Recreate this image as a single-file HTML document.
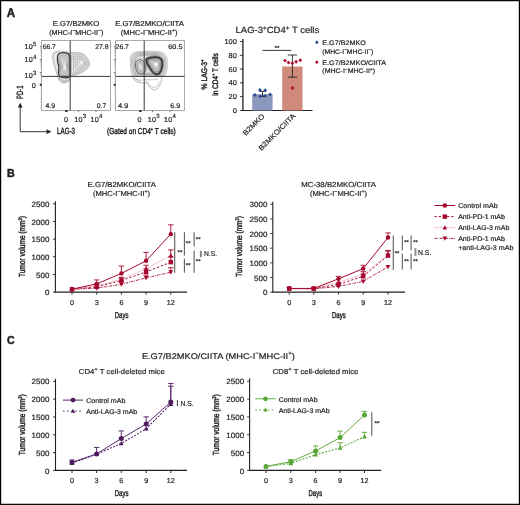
<!DOCTYPE html>
<html><head><meta charset="utf-8"><style>
html,body{margin:0;padding:0;background:#fff;}
svg{display:block;font-family:"Liberation Sans", sans-serif;will-change:transform;text-rendering:geometricPrecision;}
text{fill:#231f20;stroke:#231f20;stroke-width:0.2px;}
.c{stroke-width:0.42px;}
.b{stroke-width:0.5px;}
</style></head><body>
<svg width="520" height="505" viewBox="0 0 520 505">
<rect x="0.6" y="0.65" width="518.8" height="503.7" fill="#fff" stroke="#000" stroke-width="1.2"/>
<text x="6.7" y="16.6" font-size="12.6" font-weight="bold" textLength="8.3" lengthAdjust="spacingAndGlyphs" class="b">A</text>
<text x="7.1" y="177.1" font-size="11.5" font-weight="bold" textLength="7.7" lengthAdjust="spacingAndGlyphs" class="b">B</text>
<text x="7.1" y="344.3" font-size="11.5" font-weight="bold" textLength="7.6" lengthAdjust="spacingAndGlyphs" class="b">C</text>
<rect x="41.5" y="40.5" width="69" height="70" fill="none" stroke="#a2a2a2" stroke-width="0.9"/>
<path d="M52.3,54.5 C53,51.6 56,50.8 60,50.8 C64,50.8 67.5,51.3 70.5,52.6 C73,52 76,52.4 78,52.8 C80.5,52.4 83,52.8 85.2,55.6 C87.2,58 89.2,60.5 89.6,63 C89.9,65 89.1,66.6 87.9,67.9 C86.5,69.6 85,70.7 83.5,71.6 C81.5,72.9 79.5,73.9 77,74.6 C75,75.2 73,75.6 71,76.4 C70.2,80.5 68,83.2 64.5,83.4 C60.5,83.5 58.6,80.8 57.6,77.2 C56.6,73 55,69 53.8,64.5 C53,61.2 52,57.5 52.3,54.5Z" transform="translate(63,66) scale(1.0) translate(-63,-66)" fill="#f6f6f6" stroke="#b4b4b4" stroke-width="0.5" vector-effect="non-scaling-stroke"/><path d="M52.3,54.5 C53,51.6 56,50.8 60,50.8 C64,50.8 67.5,51.3 70.5,52.6 C73,52 76,52.4 78,52.8 C80.5,52.4 83,52.8 85.2,55.6 C87.2,58 89.2,60.5 89.6,63 C89.9,65 89.1,66.6 87.9,67.9 C86.5,69.6 85,70.7 83.5,71.6 C81.5,72.9 79.5,73.9 77,74.6 C75,75.2 73,75.6 71,76.4 C70.2,80.5 68,83.2 64.5,83.4 C60.5,83.5 58.6,80.8 57.6,77.2 C56.6,73 55,69 53.8,64.5 C53,61.2 52,57.5 52.3,54.5Z" transform="translate(63,66) scale(0.95) translate(-63,-66)" fill="#f0f0f0" stroke="#aaaaaa" stroke-width="0.5" vector-effect="non-scaling-stroke"/><path d="M52.3,54.5 C53,51.6 56,50.8 60,50.8 C64,50.8 67.5,51.3 70.5,52.6 C73,52 76,52.4 78,52.8 C80.5,52.4 83,52.8 85.2,55.6 C87.2,58 89.2,60.5 89.6,63 C89.9,65 89.1,66.6 87.9,67.9 C86.5,69.6 85,70.7 83.5,71.6 C81.5,72.9 79.5,73.9 77,74.6 C75,75.2 73,75.6 71,76.4 C70.2,80.5 68,83.2 64.5,83.4 C60.5,83.5 58.6,80.8 57.6,77.2 C56.6,73 55,69 53.8,64.5 C53,61.2 52,57.5 52.3,54.5Z" transform="translate(63,66) scale(0.9) translate(-63,-66)" fill="#ebebeb" stroke="#a4a4a4" stroke-width="0.5" vector-effect="non-scaling-stroke"/><path d="M69.6,53.8 C72,53 75.5,52.8 78.5,53 C81.5,53.2 84,54.2 86,56.4 C88.2,58.8 89.4,61.2 89.4,63.6 C89.4,66 88.2,68 86.2,69.6 C84,71.4 81.2,72.8 78,73.8 C75.5,74.6 72.5,75 69.6,75.2Z" transform="translate(81.5,63) scale(1.0) translate(-81.5,-63)" fill="#eaeaea" stroke="#969696" stroke-width="0.55" vector-effect="non-scaling-stroke"/><path d="M69.6,53.8 C72,53 75.5,52.8 78.5,53 C81.5,53.2 84,54.2 86,56.4 C88.2,58.8 89.4,61.2 89.4,63.6 C89.4,66 88.2,68 86.2,69.6 C84,71.4 81.2,72.8 78,73.8 C75.5,74.6 72.5,75 69.6,75.2Z" transform="translate(81.5,63) scale(0.84) translate(-81.5,-63)" fill="#e9e9e9" stroke="#969696" stroke-width="0.55" vector-effect="non-scaling-stroke"/><path d="M69.6,53.8 C72,53 75.5,52.8 78.5,53 C81.5,53.2 84,54.2 86,56.4 C88.2,58.8 89.4,61.2 89.4,63.6 C89.4,66 88.2,68 86.2,69.6 C84,71.4 81.2,72.8 78,73.8 C75.5,74.6 72.5,75 69.6,75.2Z" transform="translate(81.5,63) scale(0.68) translate(-81.5,-63)" fill="#e8e8e8" stroke="#969696" stroke-width="0.55" vector-effect="non-scaling-stroke"/><path d="M69.6,53.8 C72,53 75.5,52.8 78.5,53 C81.5,53.2 84,54.2 86,56.4 C88.2,58.8 89.4,61.2 89.4,63.6 C89.4,66 88.2,68 86.2,69.6 C84,71.4 81.2,72.8 78,73.8 C75.5,74.6 72.5,75 69.6,75.2Z" transform="translate(81.5,63) scale(0.52) translate(-81.5,-63)" fill="#e8e8e8" stroke="#969696" stroke-width="0.55" vector-effect="non-scaling-stroke"/><path d="M69.6,53.8 C72,53 75.5,52.8 78.5,53 C81.5,53.2 84,54.2 86,56.4 C88.2,58.8 89.4,61.2 89.4,63.6 C89.4,66 88.2,68 86.2,69.6 C84,71.4 81.2,72.8 78,73.8 C75.5,74.6 72.5,75 69.6,75.2Z" transform="translate(81.5,63) scale(0.36) translate(-81.5,-63)" fill="#e7e7e7" stroke="#969696" stroke-width="0.55" vector-effect="non-scaling-stroke"/><path d="M69.6,53.8 C72,53 75.5,52.8 78.5,53 C81.5,53.2 84,54.2 86,56.4 C88.2,58.8 89.4,61.2 89.4,63.6 C89.4,66 88.2,68 86.2,69.6 C84,71.4 81.2,72.8 78,73.8 C75.5,74.6 72.5,75 69.6,75.2Z" transform="translate(81.5,63) scale(0.2) translate(-81.5,-63)" fill="#e6e6e6" stroke="#b0b0b0" stroke-width="0.55" vector-effect="non-scaling-stroke"/><path d="M72.8,71.5 C75,69 78,66.2 81,64" fill="none" stroke="#f2f2f2" stroke-width="1.0"/><ellipse cx="81.6" cy="62.6" rx="1.3" ry="1.0" fill="#fff"/><path d="M71.5,55.5 L74.5,58 L71.5,60 M71.5,58 L73.5,59.5" fill="none" stroke="#a8a8a8" stroke-width="0.5"/><path d="M58.5,76.5 C60,80.8 62.5,82 65,82 C67.6,82 69.4,80.6 70.2,77.6" fill="#e4e4e4" stroke="#8a8a8a" stroke-width="0.6"/><path d="M59.5,77.5 C61,80 63,80.8 65,80.8 C67,80.8 68.6,79.8 69.2,77.8" fill="none" stroke="#999" stroke-width="0.5"/><path d="M57.4,57.5 C57.2,54.5 59.5,52.7 63,52.6 C66.5,52.5 69.5,54 69.9,57.5 L70,74.5 C70,76.8 68.3,77.9 65.5,77.9 C62.5,77.9 60.2,77.2 59.2,75.5 C58.3,74 58.4,71.5 58.8,69.5 C59.2,67.5 58.6,65.5 58,63.5 C57.5,61.5 57.3,59.5 57.4,57.5Z" transform="translate(64.5,66) scale(1.0) translate(-64.5,-66)" fill="#d6d6d6" stroke="#333333" stroke-width="1.2" vector-effect="non-scaling-stroke"/><path d="M57.4,57.5 C57.2,54.5 59.5,52.7 63,52.6 C66.5,52.5 69.5,54 69.9,57.5 L70,74.5 C70,76.8 68.3,77.9 65.5,77.9 C62.5,77.9 60.2,77.2 59.2,75.5 C58.3,74 58.4,71.5 58.8,69.5 C59.2,67.5 58.6,65.5 58,63.5 C57.5,61.5 57.3,59.5 57.4,57.5Z" transform="translate(64.5,66) scale(0.82) translate(-64.5,-66)" fill="#d8d8d8" stroke="#787878" stroke-width="0.6" vector-effect="non-scaling-stroke"/><path d="M57.4,57.5 C57.2,54.5 59.5,52.7 63,52.6 C66.5,52.5 69.5,54 69.9,57.5 L70,74.5 C70,76.8 68.3,77.9 65.5,77.9 C62.5,77.9 60.2,77.2 59.2,75.5 C58.3,74 58.4,71.5 58.8,69.5 C59.2,67.5 58.6,65.5 58,63.5 C57.5,61.5 57.3,59.5 57.4,57.5Z" transform="translate(64.5,66) scale(0.67) translate(-64.5,-66)" fill="#dedede" stroke="#848484" stroke-width="0.6" vector-effect="non-scaling-stroke"/><path d="M57.4,57.5 C57.2,54.5 59.5,52.7 63,52.6 C66.5,52.5 69.5,54 69.9,57.5 L70,74.5 C70,76.8 68.3,77.9 65.5,77.9 C62.5,77.9 60.2,77.2 59.2,75.5 C58.3,74 58.4,71.5 58.8,69.5 C59.2,67.5 58.6,65.5 58,63.5 C57.5,61.5 57.3,59.5 57.4,57.5Z" transform="translate(64.5,66) scale(0.52) translate(-64.5,-66)" fill="#e3e3e3" stroke="#8e8e8e" stroke-width="0.6" vector-effect="non-scaling-stroke"/><path d="M57.4,57.5 C57.2,54.5 59.5,52.7 63,52.6 C66.5,52.5 69.5,54 69.9,57.5 L70,74.5 C70,76.8 68.3,77.9 65.5,77.9 C62.5,77.9 60.2,77.2 59.2,75.5 C58.3,74 58.4,71.5 58.8,69.5 C59.2,67.5 58.6,65.5 58,63.5 C57.5,61.5 57.3,59.5 57.4,57.5Z" transform="translate(64.5,66) scale(0.37) translate(-64.5,-66)" fill="#e8e8e8" stroke="#9a9a9a" stroke-width="0.6" vector-effect="non-scaling-stroke"/><path d="M57.4,57.5 C57.2,54.5 59.5,52.7 63,52.6 C66.5,52.5 69.5,54 69.9,57.5 L70,74.5 C70,76.8 68.3,77.9 65.5,77.9 C62.5,77.9 60.2,77.2 59.2,75.5 C58.3,74 58.4,71.5 58.8,69.5 C59.2,67.5 58.6,65.5 58,63.5 C57.5,61.5 57.3,59.5 57.4,57.5Z" transform="translate(64.5,66) scale(0.22) translate(-64.5,-66)" fill="#eeeeee" stroke="#b4b4b4" stroke-width="0.6" vector-effect="non-scaling-stroke"/><ellipse cx="65.1" cy="67.7" rx="0.9" ry="1.4" fill="#fff"/>
<line x1="70.2" y1="40.5" x2="70.2" y2="110.5" stroke="#3a3a3a" stroke-width="1.0" />
<line x1="41.5" y1="76.4" x2="110.5" y2="76.4" stroke="#3a3a3a" stroke-width="1.0" />
<line x1="39.8" y1="46.3" x2="41.5" y2="46.3" stroke="#555" stroke-width="0.8" />
<line x1="39.8" y1="59.4" x2="41.5" y2="59.4" stroke="#555" stroke-width="0.8" />
<line x1="39.8" y1="72.5" x2="41.5" y2="72.5" stroke="#555" stroke-width="0.8" />
<line x1="40.4" y1="55.46" x2="41.5" y2="55.46" stroke="#999" stroke-width="0.6" />
<line x1="40.4" y1="53.15" x2="41.5" y2="53.15" stroke="#999" stroke-width="0.6" />
<line x1="40.4" y1="51.51" x2="41.5" y2="51.51" stroke="#999" stroke-width="0.6" />
<line x1="40.4" y1="50.24" x2="41.5" y2="50.24" stroke="#999" stroke-width="0.6" />
<line x1="40.4" y1="49.21" x2="41.5" y2="49.21" stroke="#999" stroke-width="0.6" />
<line x1="40.4" y1="48.33" x2="41.5" y2="48.33" stroke="#999" stroke-width="0.6" />
<line x1="40.4" y1="47.57" x2="41.5" y2="47.57" stroke="#999" stroke-width="0.6" />
<line x1="40.4" y1="46.9" x2="41.5" y2="46.9" stroke="#999" stroke-width="0.6" />
<line x1="40.4" y1="68.56" x2="41.5" y2="68.56" stroke="#999" stroke-width="0.6" />
<line x1="40.4" y1="66.25" x2="41.5" y2="66.25" stroke="#999" stroke-width="0.6" />
<line x1="40.4" y1="64.61" x2="41.5" y2="64.61" stroke="#999" stroke-width="0.6" />
<line x1="40.4" y1="63.34" x2="41.5" y2="63.34" stroke="#999" stroke-width="0.6" />
<line x1="40.4" y1="62.31" x2="41.5" y2="62.31" stroke="#999" stroke-width="0.6" />
<line x1="40.4" y1="61.43" x2="41.5" y2="61.43" stroke="#999" stroke-width="0.6" />
<line x1="40.4" y1="60.67" x2="41.5" y2="60.67" stroke="#999" stroke-width="0.6" />
<line x1="40.4" y1="60.0" x2="41.5" y2="60.0" stroke="#999" stroke-width="0.6" />
<line x1="40.4" y1="75.41" x2="41.5" y2="75.41" stroke="#999" stroke-width="0.6" />
<line x1="40.4" y1="74.53" x2="41.5" y2="74.53" stroke="#999" stroke-width="0.6" />
<line x1="40.4" y1="73.77" x2="41.5" y2="73.77" stroke="#999" stroke-width="0.6" />
<line x1="40.4" y1="73.1" x2="41.5" y2="73.1" stroke="#999" stroke-width="0.6" />
<line x1="40.4" y1="78" x2="41.5" y2="78" stroke="#aaa" stroke-width="0.6" />
<line x1="40.4" y1="80" x2="41.5" y2="80" stroke="#aaa" stroke-width="0.6" />
<line x1="40.4" y1="82" x2="41.5" y2="82" stroke="#aaa" stroke-width="0.6" />
<line x1="40.4" y1="86" x2="41.5" y2="86" stroke="#aaa" stroke-width="0.6" />
<line x1="40.4" y1="88" x2="41.5" y2="88" stroke="#aaa" stroke-width="0.6" />
<line x1="40.4" y1="90" x2="41.5" y2="90" stroke="#aaa" stroke-width="0.6" />
<line x1="40.4" y1="93" x2="41.5" y2="93" stroke="#aaa" stroke-width="0.6" />
<line x1="40.4" y1="96" x2="41.5" y2="96" stroke="#aaa" stroke-width="0.6" />
<line x1="40.4" y1="99" x2="41.5" y2="99" stroke="#aaa" stroke-width="0.6" />
<line x1="40.4" y1="102" x2="41.5" y2="102" stroke="#aaa" stroke-width="0.6" />
<line x1="40.4" y1="105" x2="41.5" y2="105" stroke="#aaa" stroke-width="0.6" />
<line x1="40.4" y1="108" x2="41.5" y2="108" stroke="#aaa" stroke-width="0.6" />
<rect x="39.8" y="83.8" width="1.8" height="2" fill="#222"/>
<line x1="46" y1="110.5" x2="46" y2="111.5" stroke="#aaa" stroke-width="0.6" />
<line x1="50" y1="110.5" x2="50" y2="111.5" stroke="#aaa" stroke-width="0.6" />
<line x1="54" y1="110.5" x2="54" y2="111.5" stroke="#aaa" stroke-width="0.6" />
<line x1="58" y1="110.5" x2="58" y2="111.5" stroke="#aaa" stroke-width="0.6" />
<line x1="62" y1="110.5" x2="62" y2="111.5" stroke="#aaa" stroke-width="0.6" />
<line x1="74" y1="110.5" x2="74" y2="111.5" stroke="#aaa" stroke-width="0.6" />
<line x1="77" y1="110.5" x2="77" y2="111.5" stroke="#aaa" stroke-width="0.6" />
<line x1="81" y1="110.5" x2="81" y2="111.5" stroke="#aaa" stroke-width="0.6" />
<line x1="86" y1="110.5" x2="86" y2="111.5" stroke="#aaa" stroke-width="0.6" />
<line x1="92" y1="110.5" x2="92" y2="111.5" stroke="#aaa" stroke-width="0.6" />
<line x1="96" y1="110.5" x2="96" y2="111.5" stroke="#aaa" stroke-width="0.6" />
<line x1="100" y1="110.5" x2="100" y2="111.5" stroke="#aaa" stroke-width="0.6" />
<line x1="104" y1="110.5" x2="104" y2="111.5" stroke="#aaa" stroke-width="0.6" />
<line x1="108" y1="110.5" x2="108" y2="111.5" stroke="#aaa" stroke-width="0.6" />
<rect x="65.2" y="110.2" width="2.4" height="1.8" fill="#222"/>
<line x1="78.5" y1="110.5" x2="78.5" y2="112" stroke="#555" stroke-width="0.8" />
<line x1="96" y1="110.5" x2="96" y2="112" stroke="#555" stroke-width="0.8" />
<text x="42.8" y="48.9" font-size="6.8" textLength="13.0" lengthAdjust="spacingAndGlyphs" >66.7</text>
<text x="95.3" y="48.9" font-size="6.8" textLength="13.2" lengthAdjust="spacingAndGlyphs" >27.8</text>
<text x="45.4" y="107.9" font-size="6.8" textLength="9.6" lengthAdjust="spacingAndGlyphs" >4.9</text>
<text x="96.8" y="107.9" font-size="6.8" textLength="9.5" lengthAdjust="spacingAndGlyphs" >0.7</text>
<rect x="115.5" y="40.5" width="69" height="70" fill="none" stroke="#a2a2a2" stroke-width="0.9"/>
<path d="M132.6,76.6 C133.2,79.2 135,81.6 139,82.6 C142,83.2 145,83 146.5,82.4 C148,85.6 151,89.2 154.5,89.9 C156.6,90.1 158.1,88.6 159.6,85.6 C160.9,82.6 161.6,79.6 161.9,76.6" fill="none" stroke="#8a8a8a" stroke-width="0.6"/><path d="M134.6,77.4 C135.8,79.8 138,81 141,81.2 M146,80.2 C148,83.6 151,86.9 154.5,87.5 C156.6,87.5 158.1,85 159.1,81.6 M144,79.2 C148,80 153,80.2 158,79 M134,78.6 C136,79.8 140,80.3 143,80" fill="none" stroke="#969696" stroke-width="0.5"/><path d="M130.2,58 C130.8,54 133.5,52 139,51.6 C146,51.1 156,51.1 161.5,52.2 C165.5,53.4 167.1,57 167.3,62 C167.5,68 166.8,72.5 164.3,76.6 L132.2,76.6 C131,71.5 130,64 130.2,58Z" transform="translate(149,65) scale(1.0) translate(-149,-65)" fill="#f2f2f2" stroke="#9c9c9c" stroke-width="0.55" vector-effect="non-scaling-stroke"/><path d="M130.2,58 C130.8,54 133.5,52 139,51.6 C146,51.1 156,51.1 161.5,52.2 C165.5,53.4 167.1,57 167.3,62 C167.5,68 166.8,72.5 164.3,76.6 L132.2,76.6 C131,71.5 130,64 130.2,58Z" transform="translate(149,65) scale(0.93) translate(-149,-65)" fill="#ececec" stroke="#949494" stroke-width="0.55" vector-effect="non-scaling-stroke"/><path d="M130.2,58 C130.8,54 133.5,52 139,51.6 C146,51.1 156,51.1 161.5,52.2 C165.5,53.4 167.1,57 167.3,62 C167.5,68 166.8,72.5 164.3,76.6 L132.2,76.6 C131,71.5 130,64 130.2,58Z" transform="translate(149,65) scale(0.86) translate(-149,-65)" fill="#e6e6e6" stroke="#8e8e8e" stroke-width="0.55" vector-effect="non-scaling-stroke"/><path d="M130.2,58 C130.8,54 133.5,52 139,51.6 C146,51.1 156,51.1 161.5,52.2 C165.5,53.4 167.1,57 167.3,62 C167.5,68 166.8,72.5 164.3,76.6 L132.2,76.6 C131,71.5 130,64 130.2,58Z" transform="translate(149,65) scale(0.79) translate(-149,-65)" fill="#e0e0e0" stroke="#8a8a8a" stroke-width="0.55" vector-effect="non-scaling-stroke"/><path d="M130.2,58 C130.8,54 133.5,52 139,51.6 C146,51.1 156,51.1 161.5,52.2 C165.5,53.4 167.1,57 167.3,62 C167.5,68 166.8,72.5 164.3,76.6 L132.2,76.6 C131,71.5 130,64 130.2,58Z" transform="translate(149,65) scale(0.72) translate(-149,-65)" fill="#dadada" stroke="#868686" stroke-width="0.55" vector-effect="non-scaling-stroke"/><path d="M135.6,63.5 C136.2,60 139.5,59 142.4,60.4 C145.2,62 146.4,66 145.8,69.6 C145.2,72.8 142.2,74.2 139.4,73.4 C136.6,72.4 135.2,67.5 135.6,63.5Z" transform="translate(140.6,66.8) scale(1.0) translate(-140.6,-66.8)" fill="#d0d0d0" stroke="#5a5a5a" stroke-width="0.9" vector-effect="non-scaling-stroke"/><path d="M135.6,63.5 C136.2,60 139.5,59 142.4,60.4 C145.2,62 146.4,66 145.8,69.6 C145.2,72.8 142.2,74.2 139.4,73.4 C136.6,72.4 135.2,67.5 135.6,63.5Z" transform="translate(140.6,66.8) scale(0.72) translate(-140.6,-66.8)" fill="#dadada" stroke="#7a7a7a" stroke-width="0.6" vector-effect="non-scaling-stroke"/><path d="M135.6,63.5 C136.2,60 139.5,59 142.4,60.4 C145.2,62 146.4,66 145.8,69.6 C145.2,72.8 142.2,74.2 139.4,73.4 C136.6,72.4 135.2,67.5 135.6,63.5Z" transform="translate(140.6,66.8) scale(0.45) translate(-140.6,-66.8)" fill="#e6e6e6" stroke="#8e8e8e" stroke-width="0.55" vector-effect="non-scaling-stroke"/><path d="M135.6,63.5 C136.2,60 139.5,59 142.4,60.4 C145.2,62 146.4,66 145.8,69.6 C145.2,72.8 142.2,74.2 139.4,73.4 C136.6,72.4 135.2,67.5 135.6,63.5Z" transform="translate(140.6,66.8) scale(0.2) translate(-140.6,-66.8)" fill="#f8f8f8" stroke="#b8b8b8" stroke-width="0.5" vector-effect="non-scaling-stroke"/><path d="M146.5,59.8 C148,57.6 152,57.2 156,57.3 C159.5,57.4 161.5,58.4 162,61 C162.6,64 162,67.8 160.8,70.8 C159.6,73.4 157.6,74.5 155.6,74 C153.5,73.4 151.8,71 150.2,68.4 C148.6,65.8 146.4,63.2 146.5,59.8Z" transform="translate(155.5,64.5) scale(1.16) translate(-155.5,-64.5)" fill="#c8c8c8" stroke="#7a7a7a" stroke-width="0.6" vector-effect="non-scaling-stroke"/><path d="M146.5,59.8 C148,57.6 152,57.2 156,57.3 C159.5,57.4 161.5,58.4 162,61 C162.6,64 162,67.8 160.8,70.8 C159.6,73.4 157.6,74.5 155.6,74 C153.5,73.4 151.8,71 150.2,68.4 C148.6,65.8 146.4,63.2 146.5,59.8Z" transform="translate(155.5,64.5) scale(1.08) translate(-155.5,-64.5)" fill="#b4b4b4" stroke="#5a5a5a" stroke-width="0.8" vector-effect="non-scaling-stroke"/><path d="M146.5,59.8 C148,57.6 152,57.2 156,57.3 C159.5,57.4 161.5,58.4 162,61 C162.6,64 162,67.8 160.8,70.8 C159.6,73.4 157.6,74.5 155.6,74 C153.5,73.4 151.8,71 150.2,68.4 C148.6,65.8 146.4,63.2 146.5,59.8Z" transform="translate(156,64.3) scale(1.0) translate(-156,-64.3)" fill="#c4c4c4" stroke="#383838" stroke-width="1.7" vector-effect="non-scaling-stroke"/><path d="M146.5,59.8 C148,57.6 152,57.2 156,57.3 C159.5,57.4 161.5,58.4 162,61 C162.6,64 162,67.8 160.8,70.8 C159.6,73.4 157.6,74.5 155.6,74 C153.5,73.4 151.8,71 150.2,68.4 C148.6,65.8 146.4,63.2 146.5,59.8Z" transform="translate(156,64.3) scale(0.8) translate(-156,-64.3)" fill="#cccccc" stroke="#5e5e5e" stroke-width="0.7" vector-effect="non-scaling-stroke"/><path d="M146.5,59.8 C148,57.6 152,57.2 156,57.3 C159.5,57.4 161.5,58.4 162,61 C162.6,64 162,67.8 160.8,70.8 C159.6,73.4 157.6,74.5 155.6,74 C153.5,73.4 151.8,71 150.2,68.4 C148.6,65.8 146.4,63.2 146.5,59.8Z" transform="translate(156,64.3) scale(0.6) translate(-156,-64.3)" fill="#d8d8d8" stroke="#767676" stroke-width="0.6" vector-effect="non-scaling-stroke"/><path d="M146.5,59.8 C148,57.6 152,57.2 156,57.3 C159.5,57.4 161.5,58.4 162,61 C162.6,64 162,67.8 160.8,70.8 C159.6,73.4 157.6,74.5 155.6,74 C153.5,73.4 151.8,71 150.2,68.4 C148.6,65.8 146.4,63.2 146.5,59.8Z" transform="translate(156,64.3) scale(0.4) translate(-156,-64.3)" fill="#e4e4e4" stroke="#8a8a8a" stroke-width="0.55" vector-effect="non-scaling-stroke"/><path d="M146.5,59.8 C148,57.6 152,57.2 156,57.3 C159.5,57.4 161.5,58.4 162,61 C162.6,64 162,67.8 160.8,70.8 C159.6,73.4 157.6,74.5 155.6,74 C153.5,73.4 151.8,71 150.2,68.4 C148.6,65.8 146.4,63.2 146.5,59.8Z" transform="translate(156,64.3) scale(0.2) translate(-156,-64.3)" fill="#f0f0f0" stroke="#b0b0b0" stroke-width="0.5" vector-effect="non-scaling-stroke"/><ellipse cx="156.2" cy="64.2" rx="1.4" ry="1.2" fill="#fff"/>
<line x1="144.2" y1="40.5" x2="144.2" y2="110.5" stroke="#3a3a3a" stroke-width="1.0" />
<line x1="115.5" y1="76.4" x2="184.5" y2="76.4" stroke="#3a3a3a" stroke-width="1.0" />
<line x1="113.8" y1="46.3" x2="115.5" y2="46.3" stroke="#555" stroke-width="0.8" />
<line x1="113.8" y1="59.4" x2="115.5" y2="59.4" stroke="#555" stroke-width="0.8" />
<line x1="113.8" y1="72.5" x2="115.5" y2="72.5" stroke="#555" stroke-width="0.8" />
<line x1="114.4" y1="55.46" x2="115.5" y2="55.46" stroke="#999" stroke-width="0.6" />
<line x1="114.4" y1="53.15" x2="115.5" y2="53.15" stroke="#999" stroke-width="0.6" />
<line x1="114.4" y1="51.51" x2="115.5" y2="51.51" stroke="#999" stroke-width="0.6" />
<line x1="114.4" y1="50.24" x2="115.5" y2="50.24" stroke="#999" stroke-width="0.6" />
<line x1="114.4" y1="49.21" x2="115.5" y2="49.21" stroke="#999" stroke-width="0.6" />
<line x1="114.4" y1="48.33" x2="115.5" y2="48.33" stroke="#999" stroke-width="0.6" />
<line x1="114.4" y1="47.57" x2="115.5" y2="47.57" stroke="#999" stroke-width="0.6" />
<line x1="114.4" y1="46.9" x2="115.5" y2="46.9" stroke="#999" stroke-width="0.6" />
<line x1="114.4" y1="68.56" x2="115.5" y2="68.56" stroke="#999" stroke-width="0.6" />
<line x1="114.4" y1="66.25" x2="115.5" y2="66.25" stroke="#999" stroke-width="0.6" />
<line x1="114.4" y1="64.61" x2="115.5" y2="64.61" stroke="#999" stroke-width="0.6" />
<line x1="114.4" y1="63.34" x2="115.5" y2="63.34" stroke="#999" stroke-width="0.6" />
<line x1="114.4" y1="62.31" x2="115.5" y2="62.31" stroke="#999" stroke-width="0.6" />
<line x1="114.4" y1="61.43" x2="115.5" y2="61.43" stroke="#999" stroke-width="0.6" />
<line x1="114.4" y1="60.67" x2="115.5" y2="60.67" stroke="#999" stroke-width="0.6" />
<line x1="114.4" y1="60.0" x2="115.5" y2="60.0" stroke="#999" stroke-width="0.6" />
<line x1="114.4" y1="75.41" x2="115.5" y2="75.41" stroke="#999" stroke-width="0.6" />
<line x1="114.4" y1="74.53" x2="115.5" y2="74.53" stroke="#999" stroke-width="0.6" />
<line x1="114.4" y1="73.77" x2="115.5" y2="73.77" stroke="#999" stroke-width="0.6" />
<line x1="114.4" y1="73.1" x2="115.5" y2="73.1" stroke="#999" stroke-width="0.6" />
<line x1="114.4" y1="78" x2="115.5" y2="78" stroke="#aaa" stroke-width="0.6" />
<line x1="114.4" y1="80" x2="115.5" y2="80" stroke="#aaa" stroke-width="0.6" />
<line x1="114.4" y1="82" x2="115.5" y2="82" stroke="#aaa" stroke-width="0.6" />
<line x1="114.4" y1="86" x2="115.5" y2="86" stroke="#aaa" stroke-width="0.6" />
<line x1="114.4" y1="88" x2="115.5" y2="88" stroke="#aaa" stroke-width="0.6" />
<line x1="114.4" y1="90" x2="115.5" y2="90" stroke="#aaa" stroke-width="0.6" />
<line x1="114.4" y1="93" x2="115.5" y2="93" stroke="#aaa" stroke-width="0.6" />
<line x1="114.4" y1="96" x2="115.5" y2="96" stroke="#aaa" stroke-width="0.6" />
<line x1="114.4" y1="99" x2="115.5" y2="99" stroke="#aaa" stroke-width="0.6" />
<line x1="114.4" y1="102" x2="115.5" y2="102" stroke="#aaa" stroke-width="0.6" />
<line x1="114.4" y1="105" x2="115.5" y2="105" stroke="#aaa" stroke-width="0.6" />
<line x1="114.4" y1="108" x2="115.5" y2="108" stroke="#aaa" stroke-width="0.6" />
<rect x="113.8" y="83.8" width="1.8" height="2" fill="#222"/>
<line x1="120" y1="110.5" x2="120" y2="111.5" stroke="#aaa" stroke-width="0.6" />
<line x1="124" y1="110.5" x2="124" y2="111.5" stroke="#aaa" stroke-width="0.6" />
<line x1="128" y1="110.5" x2="128" y2="111.5" stroke="#aaa" stroke-width="0.6" />
<line x1="132" y1="110.5" x2="132" y2="111.5" stroke="#aaa" stroke-width="0.6" />
<line x1="136" y1="110.5" x2="136" y2="111.5" stroke="#aaa" stroke-width="0.6" />
<line x1="148" y1="110.5" x2="148" y2="111.5" stroke="#aaa" stroke-width="0.6" />
<line x1="151" y1="110.5" x2="151" y2="111.5" stroke="#aaa" stroke-width="0.6" />
<line x1="155" y1="110.5" x2="155" y2="111.5" stroke="#aaa" stroke-width="0.6" />
<line x1="160" y1="110.5" x2="160" y2="111.5" stroke="#aaa" stroke-width="0.6" />
<line x1="166" y1="110.5" x2="166" y2="111.5" stroke="#aaa" stroke-width="0.6" />
<line x1="170" y1="110.5" x2="170" y2="111.5" stroke="#aaa" stroke-width="0.6" />
<line x1="174" y1="110.5" x2="174" y2="111.5" stroke="#aaa" stroke-width="0.6" />
<line x1="178" y1="110.5" x2="178" y2="111.5" stroke="#aaa" stroke-width="0.6" />
<line x1="182" y1="110.5" x2="182" y2="111.5" stroke="#aaa" stroke-width="0.6" />
<rect x="139.2" y="110.2" width="2.4" height="1.8" fill="#222"/>
<line x1="152.5" y1="110.5" x2="152.5" y2="112" stroke="#555" stroke-width="0.8" />
<line x1="170" y1="110.5" x2="170" y2="112" stroke="#555" stroke-width="0.8" />
<text x="115.6" y="48.9" font-size="6.8" textLength="13.3" lengthAdjust="spacingAndGlyphs" >26.7</text>
<text x="168.3" y="48.9" font-size="6.8" textLength="14.2" lengthAdjust="spacingAndGlyphs" >60.5</text>
<text x="118.0" y="107.9" font-size="6.8" textLength="10.3" lengthAdjust="spacingAndGlyphs" >4.9</text>
<text x="170.3" y="107.9" font-size="6.8" textLength="10.0" lengthAdjust="spacingAndGlyphs" >6.9</text>
<text x="52.8" y="25.9" font-size="7.2" textLength="46.4" lengthAdjust="spacingAndGlyphs" >E.G7/B2MKO</text>
<text x="49.2" y="35.3" font-size="7.2" textLength="54.1" lengthAdjust="spacingAndGlyphs" >(MHC-I<tspan dy="-3.024" font-size="4.896000000000001">−</tspan><tspan dy="3.024">MHC-II</tspan><tspan dy="-3.024" font-size="4.896000000000001">−</tspan><tspan dy="3.024">)</tspan></text>
<text x="115.2" y="25.9" font-size="7.2" textLength="68.7" lengthAdjust="spacingAndGlyphs" >E.G7/B2MKO/CIITA</text>
<text x="120.8" y="35.3" font-size="7.2" textLength="56.7" lengthAdjust="spacingAndGlyphs" >(MHC-I<tspan dy="-3.024" font-size="4.896000000000001">−</tspan><tspan dy="3.024">MHC-II</tspan><tspan dy="-3.024" font-size="4.896000000000001">+</tspan><tspan dy="3.024">)</tspan></text>
<text x="24.4" y="49.0" font-size="7.2" letter-spacing="0.25">10<tspan dy="-3.3" font-size="6.0">5</tspan></text>
<text x="24.4" y="61.8" font-size="7.2" letter-spacing="0.25">10<tspan dy="-3.3" font-size="6.0">4</tspan></text>
<text x="24.4" y="78.4" font-size="7.2" letter-spacing="0.25">10<tspan dy="-3.3" font-size="6.0">3</tspan></text>
<text x="31.8" y="87.6" font-size="7.2" >0</text>
<text x="64.0" y="121.6" font-size="7.2" >0</text>
<text x="74.2" y="121.6" font-size="7.2" letter-spacing="0.25">10<tspan dy="-3.3" font-size="6.0">3</tspan></text>
<text x="90.4" y="121.6" font-size="7.2" letter-spacing="0.25">10<tspan dy="-3.3" font-size="6.0">4</tspan></text>
<text x="137.5" y="121.6" font-size="7.2" >0</text>
<text x="147.7" y="121.6" font-size="7.2" letter-spacing="0.25">10<tspan dy="-3.3" font-size="6.0">3</tspan></text>
<text x="163.9" y="121.6" font-size="7.2" letter-spacing="0.25">10<tspan dy="-3.3" font-size="6.0">4</tspan></text>
<text transform="translate(22.8,98.9) rotate(-90)" x="0" y="0" font-size="9.0" textLength="13.4" lengthAdjust="spacingAndGlyphs" class="c">PD-1</text>
<line x1="20.2" y1="131.7" x2="20.2" y2="106.5" stroke="#231f20" stroke-width="0.9" />
<line x1="20.2" y1="131.7" x2="47.5" y2="131.7" stroke="#231f20" stroke-width="0.9" />
<path d="M20.2,102.8 L17.8,107.4 L22.6,107.4Z" fill="#231f20"/>
<path d="M51.4,131.7 L46.6,129.3 L46.6,134.1Z" fill="#231f20"/>
<text x="57.1" y="134.0" font-size="9.0" textLength="17.9" lengthAdjust="spacingAndGlyphs" class="c">LAG-3</text>
<text x="107.1" y="134.1" font-size="8.6" textLength="68.6" lengthAdjust="spacingAndGlyphs" class="c">(Gated on CD4<tspan dy="-3.2" font-size="5.2">+</tspan><tspan dy="3.2"> T cells)</tspan></text>
<text x="235.6" y="33.4" font-size="9.0" textLength="83.6" lengthAdjust="spacingAndGlyphs" >LAG-3<tspan dy="-3.4" font-size="6">+</tspan><tspan dy="3.4">CD4</tspan><tspan dy="-3.4" font-size="6">+</tspan><tspan dy="3.4"> T cells</tspan></text>
<line x1="242.9" y1="38.9" x2="242.9" y2="111" stroke="#231f20" stroke-width="1.3" />
<line x1="242" y1="110.5" x2="312.5" y2="110.5" stroke="#231f20" stroke-width="1.1" />
<line x1="239.9" y1="110.5" x2="242.9" y2="110.5" stroke="#231f20" stroke-width="0.9" />
<text x="236.8" y="113.0" font-size="7.2" text-anchor="end" textLength="4.1" lengthAdjust="spacingAndGlyphs" >0</text>
<line x1="239.9" y1="96.7" x2="242.9" y2="96.7" stroke="#231f20" stroke-width="0.9" />
<text x="236.8" y="99.2" font-size="7.2" text-anchor="end" textLength="8.2" lengthAdjust="spacingAndGlyphs" >20</text>
<line x1="239.9" y1="82.9" x2="242.9" y2="82.9" stroke="#231f20" stroke-width="0.9" />
<text x="236.8" y="85.4" font-size="7.2" text-anchor="end" textLength="8.2" lengthAdjust="spacingAndGlyphs" >40</text>
<line x1="239.9" y1="69.1" x2="242.9" y2="69.1" stroke="#231f20" stroke-width="0.9" />
<text x="236.8" y="71.6" font-size="7.2" text-anchor="end" textLength="8.2" lengthAdjust="spacingAndGlyphs" >60</text>
<line x1="239.9" y1="55.3" x2="242.9" y2="55.3" stroke="#231f20" stroke-width="0.9" />
<text x="236.8" y="57.8" font-size="7.2" text-anchor="end" textLength="8.2" lengthAdjust="spacingAndGlyphs" >80</text>
<line x1="239.9" y1="41.5" x2="242.9" y2="41.5" stroke="#231f20" stroke-width="0.9" />
<text x="236.8" y="44.0" font-size="7.2" text-anchor="end" textLength="12.3" lengthAdjust="spacingAndGlyphs" >100</text>
<rect x="252.2" y="94.285" width="20.4" height="16.215000000000003" fill="#8c98be"/>
<rect x="282.2" y="66.47800000000001" width="20.3" height="44.02199999999999" fill="#d08a7c"/>
<line x1="262.5" y1="91.4" x2="262.5" y2="96.4" stroke="#231f20" stroke-width="0.9" />
<line x1="259.3" y1="91.4" x2="265.7" y2="91.4" stroke="#231f20" stroke-width="0.9" />
<line x1="259.3" y1="96.4" x2="265.7" y2="96.4" stroke="#231f20" stroke-width="0.9" />
<line x1="292.4" y1="55.0" x2="292.4" y2="77.2" stroke="#231f20" stroke-width="0.9" />
<line x1="287.79999999999995" y1="55.0" x2="297.0" y2="55.0" stroke="#231f20" stroke-width="0.9" />
<line x1="287.79999999999995" y1="77.2" x2="297.0" y2="77.2" stroke="#231f20" stroke-width="0.9" />
<path d="M259.9,88.05 L261.84999999999997,90.0 L259.9,91.95 L257.95,90.0Z" fill="#2b4f94"/>
<path d="M265.2,88.25 L267.15,90.2 L265.2,92.15 L263.25,90.2Z" fill="#2b4f94"/>
<path d="M254.9,93.05 L256.85,95.0 L254.9,96.95 L252.95000000000002,95.0Z" fill="#2b4f94"/>
<path d="M260.2,94.45 L262.15,96.4 L260.2,98.35000000000001 L258.25,96.4Z" fill="#2b4f94"/>
<path d="M265.2,93.95 L267.15,95.9 L265.2,97.85000000000001 L263.25,95.9Z" fill="#2b4f94"/>
<path d="M270.1,92.45 L272.05,94.4 L270.1,96.35000000000001 L268.15000000000003,94.4Z" fill="#2b4f94"/>
<path d="M285.0,58.65 L286.95,60.6 L285.0,62.550000000000004 L283.05,60.6Z" fill="#b0112f"/>
<path d="M288.5,60.65 L290.45,62.6 L288.5,64.55 L286.55,62.6Z" fill="#b0112f"/>
<path d="M292.4,61.349999999999994 L294.34999999999997,63.3 L292.4,65.25 L290.45,63.3Z" fill="#b0112f"/>
<path d="M296.1,59.75 L298.05,61.7 L296.1,63.650000000000006 L294.15000000000003,61.7Z" fill="#b0112f"/>
<path d="M300.3,58.349999999999994 L302.25,60.3 L300.3,62.25 L298.35,60.3Z" fill="#b0112f"/>
<path d="M292.4,86.05 L294.34999999999997,88.0 L292.4,89.95 L290.45,88.0Z" fill="#b0112f"/>
<line x1="262.6" y1="50.4" x2="291.3" y2="50.4" stroke="#231f20" stroke-width="0.9" />
<text x="274.4" y="49.9" font-size="6.0" textLength="5.0" lengthAdjust="spacingAndGlyphs" >**</text>
<text transform="translate(265.0,116.6) rotate(-45)" x="0" y="0" font-size="7.2" text-anchor="end" textLength="27.3" lengthAdjust="spacingAndGlyphs" >B2MKO</text>
<text transform="translate(295.8,116.6) rotate(-45)" x="0" y="0" font-size="7.2" text-anchor="end" textLength="48.6" lengthAdjust="spacingAndGlyphs" >B2MKO/CIITA</text>
<text transform="translate(206.8,74.5) rotate(-90)" x="0" y="0" font-size="8.0" text-anchor="middle" textLength="30.0" lengthAdjust="spacingAndGlyphs" class="c">% LAG-3<tspan dy="-3.2" font-size="5">+</tspan></text>
<text transform="translate(217.6,74.5) rotate(-90)" x="0" y="0" font-size="8.0" text-anchor="middle" textLength="42.6" lengthAdjust="spacingAndGlyphs" class="c">in CD4<tspan dy="-3" font-size="4.5">+</tspan><tspan dy="3"> T cells</tspan></text>
<path d="M316.8,40.4 L318.7,42.3 L316.8,44.199999999999996 L314.90000000000003,42.3Z" fill="#2b4f94"/>
<path d="M316.8,60.300000000000004 L318.7,62.2 L316.8,64.10000000000001 L314.90000000000003,62.2Z" fill="#b0112f"/>
<text x="322.3" y="44.9" font-size="6.6" textLength="43.6" lengthAdjust="spacingAndGlyphs" >E.G7/B2MKO</text>
<text x="322.3" y="53.7" font-size="6.6" textLength="51.0" lengthAdjust="spacingAndGlyphs" >(MHC-I<tspan dy="-2.772" font-size="4.488">−</tspan><tspan dy="2.772">MHC-II</tspan><tspan dy="-2.772" font-size="4.488">−</tspan><tspan dy="2.772">)</tspan></text>
<text x="322.3" y="64.5" font-size="6.6" textLength="63.7" lengthAdjust="spacingAndGlyphs" >E.G7/B2MKO/CIITA</text>
<text x="322.3" y="73.3" font-size="6.6" textLength="52.7" lengthAdjust="spacingAndGlyphs" >(MHC-I<tspan dy="-2.772" font-size="4.488">−</tspan><tspan dy="2.772">MHC-II</tspan><tspan dy="-2.772" font-size="4.488">+</tspan><tspan dy="2.772">)</tspan></text>
<line x1="55.4" y1="201.3" x2="55.4" y2="292.6" stroke="#231f20" stroke-width="1.1" />
<line x1="54.9" y1="292.1" x2="187" y2="292.1" stroke="#231f20" stroke-width="1.1" />
<line x1="52.9" y1="292.1" x2="55.4" y2="292.1" stroke="#231f20" stroke-width="0.9" />
<text x="49.4" y="295.2" font-size="7.7" text-anchor="end" textLength="4.45" lengthAdjust="spacingAndGlyphs" >0</text>
<line x1="52.9" y1="274.44" x2="55.4" y2="274.44" stroke="#231f20" stroke-width="0.9" />
<text x="49.4" y="277.54" font-size="7.7" text-anchor="end" textLength="13.35" lengthAdjust="spacingAndGlyphs" >500</text>
<line x1="52.9" y1="256.78" x2="55.4" y2="256.78" stroke="#231f20" stroke-width="0.9" />
<text x="49.4" y="259.88" font-size="7.7" text-anchor="end" textLength="17.8" lengthAdjust="spacingAndGlyphs" >1000</text>
<line x1="52.9" y1="239.12" x2="55.4" y2="239.12" stroke="#231f20" stroke-width="0.9" />
<text x="49.4" y="242.22" font-size="7.7" text-anchor="end" textLength="17.8" lengthAdjust="spacingAndGlyphs" >1500</text>
<line x1="52.9" y1="221.46" x2="55.4" y2="221.46" stroke="#231f20" stroke-width="0.9" />
<text x="49.4" y="224.56" font-size="7.7" text-anchor="end" textLength="17.8" lengthAdjust="spacingAndGlyphs" >2000</text>
<line x1="52.9" y1="203.8" x2="55.4" y2="203.8" stroke="#231f20" stroke-width="0.9" />
<text x="49.4" y="206.9" font-size="7.7" text-anchor="end" textLength="17.8" lengthAdjust="spacingAndGlyphs" >2500</text>
<line x1="72.0" y1="292.1" x2="72.0" y2="294.70000000000005" stroke="#231f20" stroke-width="0.9" />
<text x="72.0" y="304.8" font-size="7.2" text-anchor="middle" >0</text>
<line x1="96.7" y1="292.1" x2="96.7" y2="294.70000000000005" stroke="#231f20" stroke-width="0.9" />
<text x="96.7" y="304.8" font-size="7.2" text-anchor="middle" >3</text>
<line x1="121.4" y1="292.1" x2="121.4" y2="294.70000000000005" stroke="#231f20" stroke-width="0.9" />
<text x="121.4" y="304.8" font-size="7.2" text-anchor="middle" >6</text>
<line x1="146.1" y1="292.1" x2="146.1" y2="294.70000000000005" stroke="#231f20" stroke-width="0.9" />
<text x="146.1" y="304.8" font-size="7.2" text-anchor="middle" >9</text>
<line x1="170.8" y1="292.1" x2="170.8" y2="294.70000000000005" stroke="#231f20" stroke-width="0.9" />
<text x="170.8" y="304.8" font-size="7.2" text-anchor="middle" >12</text>
<text x="114.8" y="317.8" font-size="8.6" textLength="13.6" lengthAdjust="spacingAndGlyphs" class="c">Days</text>
<text transform="translate(25.0,246.6) rotate(-90)" x="0" y="0" font-size="8.8" text-anchor="middle" textLength="61.0" lengthAdjust="spacingAndGlyphs" class="c">Tumor volume (mm<tspan dy="-3.4" font-size="5.4">3</tspan><tspan dy="3.4">)</tspan></text>
<text x="87.6" y="187.4" font-size="7.3" textLength="68.2" lengthAdjust="spacingAndGlyphs" >E.G7/B2MKO/CIITA</text>
<text x="92.9" y="196.2" font-size="7.3" textLength="57.2" lengthAdjust="spacingAndGlyphs" >(MHC-I<tspan dy="-3.066" font-size="4.964">−</tspan><tspan dy="3.066">MHC-II</tspan><tspan dy="-3.066" font-size="4.964">+</tspan><tspan dy="3.066">)</tspan></text>
<line x1="121.4" y1="284.33" x2="121.4" y2="281.86" stroke="#a6072f" stroke-width="0.9" />
<line x1="118.7" y1="281.86" x2="124.1" y2="281.86" stroke="#a6072f" stroke-width="0.9" />
<line x1="146.1" y1="277.8" x2="146.1" y2="275.15" stroke="#a6072f" stroke-width="0.9" />
<line x1="143.4" y1="275.15" x2="148.8" y2="275.15" stroke="#a6072f" stroke-width="0.9" />
<line x1="170.8" y1="272.21" x2="170.8" y2="267.73" stroke="#a6072f" stroke-width="0.9" />
<line x1="168.1" y1="267.73" x2="173.5" y2="267.73" stroke="#a6072f" stroke-width="0.9" />
<polyline points="72.00,289.27 96.70,288.21 121.40,284.33 146.10,277.80 170.80,272.21" fill="none" stroke="#a6072f" stroke-width="0.9" stroke-dasharray="2.6,1.0,0.8,1.0"/>
<path d="M72.0,291.79999999999995 L74.42,287.4 L69.58,287.4Z" fill="#a6072f"/>
<path d="M96.7,290.73999999999995 L99.12,286.34 L94.28,286.34Z" fill="#a6072f"/>
<path d="M121.4,286.85999999999996 L123.82000000000001,282.46 L118.98,282.46Z" fill="#a6072f"/>
<path d="M146.1,280.33 L148.51999999999998,275.93 L143.68,275.93Z" fill="#a6072f"/>
<path d="M170.8,274.73999999999995 L173.22,270.34 L168.38000000000002,270.34Z" fill="#a6072f"/>
<line x1="96.7" y1="286.8" x2="96.7" y2="284.68" stroke="#a6072f" stroke-width="0.9" />
<line x1="94.0" y1="284.68" x2="99.4" y2="284.68" stroke="#a6072f" stroke-width="0.9" />
<line x1="121.4" y1="280.44" x2="121.4" y2="277.97" stroke="#a6072f" stroke-width="0.9" />
<line x1="118.7" y1="277.97" x2="124.1" y2="277.97" stroke="#a6072f" stroke-width="0.9" />
<line x1="146.1" y1="271.97" x2="146.1" y2="269.14" stroke="#a6072f" stroke-width="0.9" />
<line x1="143.4" y1="269.14" x2="148.8" y2="269.14" stroke="#a6072f" stroke-width="0.9" />
<line x1="170.8" y1="262.18" x2="170.8" y2="256.78" stroke="#a6072f" stroke-width="0.9" />
<line x1="168.1" y1="256.78" x2="173.5" y2="256.78" stroke="#a6072f" stroke-width="0.9" />
<polyline points="72.00,289.27 96.70,286.80 121.40,280.44 146.10,271.97 170.80,262.18" fill="none" stroke="#a6072f" stroke-width="1.0" stroke-dasharray="2.2,2.0"/>
<rect x="69.8" y="287.07" width="4.4" height="4.4" fill="#a6072f"/>
<rect x="94.5" y="284.6" width="4.4" height="4.4" fill="#a6072f"/>
<rect x="119.2" y="278.24" width="4.4" height="4.4" fill="#a6072f"/>
<rect x="143.9" y="269.77000000000004" width="4.4" height="4.4" fill="#a6072f"/>
<rect x="168.60000000000002" y="259.98" width="4.4" height="4.4" fill="#a6072f"/>
<line x1="96.7" y1="285.74" x2="96.7" y2="283.98" stroke="#a6072f" stroke-width="0.9" />
<line x1="94.0" y1="283.98" x2="99.4" y2="283.98" stroke="#a6072f" stroke-width="0.9" />
<line x1="121.4" y1="279.38" x2="121.4" y2="277.27" stroke="#a6072f" stroke-width="0.9" />
<line x1="118.7" y1="277.27" x2="124.1" y2="277.27" stroke="#a6072f" stroke-width="0.9" />
<line x1="146.1" y1="268.68" x2="146.1" y2="265.26" stroke="#a6072f" stroke-width="0.9" />
<line x1="143.4" y1="265.26" x2="148.8" y2="265.26" stroke="#a6072f" stroke-width="0.9" />
<line x1="170.8" y1="255.72" x2="170.8" y2="249.89" stroke="#a6072f" stroke-width="0.9" />
<line x1="168.1" y1="249.89" x2="173.5" y2="249.89" stroke="#a6072f" stroke-width="0.9" />
<polyline points="72.00,289.27 96.70,285.74 121.40,279.38 146.10,268.68 170.80,255.72" fill="none" stroke="#e48aa0" stroke-width="0.8" stroke-dasharray="0.9,0.5"/>
<path d="M72.0,286.74 L74.42,291.14 L69.58,291.14Z" fill="#a6072f"/>
<path d="M96.7,283.21000000000004 L99.12,287.61 L94.28,287.61Z" fill="#a6072f"/>
<path d="M121.4,276.85 L123.82000000000001,281.25 L118.98,281.25Z" fill="#a6072f"/>
<path d="M146.1,266.15000000000003 L148.51999999999998,270.55 L143.68,270.55Z" fill="#a6072f"/>
<path d="M170.8,253.19 L173.22,257.59 L168.38000000000002,257.59Z" fill="#a6072f"/>
<line x1="96.7" y1="283.87" x2="96.7" y2="279.95" stroke="#a6072f" stroke-width="0.9" />
<line x1="94.0" y1="279.95" x2="99.4" y2="279.95" stroke="#a6072f" stroke-width="0.9" />
<line x1="121.4" y1="273.42" x2="121.4" y2="266.0" stroke="#a6072f" stroke-width="0.9" />
<line x1="118.7" y1="266.0" x2="124.1" y2="266.0" stroke="#a6072f" stroke-width="0.9" />
<line x1="146.1" y1="260.77" x2="146.1" y2="252.44" stroke="#a6072f" stroke-width="0.9" />
<line x1="143.4" y1="252.44" x2="148.8" y2="252.44" stroke="#a6072f" stroke-width="0.9" />
<line x1="170.8" y1="234.14" x2="170.8" y2="224.82" stroke="#a6072f" stroke-width="0.9" />
<line x1="168.1" y1="224.82" x2="173.5" y2="224.82" stroke="#a6072f" stroke-width="0.9" />
<polyline points="72.00,289.20 96.70,283.87 121.40,273.42 146.10,260.77 170.80,234.14" fill="none" stroke="#a6072f" stroke-width="1.0"/>
<circle cx="72.0" cy="289.2" r="2.2" fill="#a6072f"/>
<circle cx="96.7" cy="283.87" r="2.2" fill="#a6072f"/>
<circle cx="121.4" cy="273.42" r="2.2" fill="#a6072f"/>
<circle cx="146.1" cy="260.77" r="2.2" fill="#a6072f"/>
<circle cx="170.8" cy="234.14" r="2.2" fill="#a6072f"/>
<line x1="174.7" y1="232.2" x2="174.7" y2="272.7" stroke="#5d5d5f" stroke-width="1.1" />
<line x1="184.4" y1="232.2" x2="184.4" y2="255.4" stroke="#5d5d5f" stroke-width="1.1" />
<line x1="184.4" y1="258.8" x2="184.4" y2="272.7" stroke="#5d5d5f" stroke-width="1.1" />
<line x1="194.1" y1="232.2" x2="194.1" y2="246.6" stroke="#5d5d5f" stroke-width="1.1" />
<line x1="194.1" y1="250.5" x2="194.1" y2="272.7" stroke="#5d5d5f" stroke-width="1.1" />
<text x="177.5" y="253.9" font-size="5.5" textLength="4.8" lengthAdjust="spacingAndGlyphs" >**</text>
<text x="185.8" y="245.1" font-size="5.5" textLength="4.8" lengthAdjust="spacingAndGlyphs" >**</text>
<text x="185.8" y="266.9" font-size="5.5" textLength="4.8" lengthAdjust="spacingAndGlyphs" >**</text>
<text x="195.8" y="241.0" font-size="5.5" textLength="4.8" lengthAdjust="spacingAndGlyphs" >**</text>
<text x="195.8" y="262.8" font-size="5.5" textLength="4.8" lengthAdjust="spacingAndGlyphs" >**</text>
<line x1="200.4" y1="250.8" x2="200.4" y2="257.2" stroke="#5d5d5f" stroke-width="0.8" />
<line x1="201.3" y1="250.8" x2="201.3" y2="257.2" stroke="#5d5d5f" stroke-width="0.8" />
<text x="204.0" y="256.3" font-size="7.2" textLength="13.0" lengthAdjust="spacingAndGlyphs" >N.S.</text>
<line x1="272.8" y1="201.8" x2="272.8" y2="292.6" stroke="#231f20" stroke-width="1.1" />
<line x1="272.3" y1="292.1" x2="405" y2="292.1" stroke="#231f20" stroke-width="1.1" />
<line x1="270.3" y1="292.1" x2="272.8" y2="292.1" stroke="#231f20" stroke-width="0.9" />
<text x="267.4" y="295.2" font-size="7.7" text-anchor="end" textLength="4.45" lengthAdjust="spacingAndGlyphs" >0</text>
<line x1="270.3" y1="277.47" x2="272.8" y2="277.47" stroke="#231f20" stroke-width="0.9" />
<text x="267.4" y="280.57" font-size="7.7" text-anchor="end" textLength="13.35" lengthAdjust="spacingAndGlyphs" >500</text>
<line x1="270.3" y1="262.83" x2="272.8" y2="262.83" stroke="#231f20" stroke-width="0.9" />
<text x="267.4" y="265.93" font-size="7.7" text-anchor="end" textLength="17.8" lengthAdjust="spacingAndGlyphs" >1000</text>
<line x1="270.3" y1="248.2" x2="272.8" y2="248.2" stroke="#231f20" stroke-width="0.9" />
<text x="267.4" y="251.3" font-size="7.7" text-anchor="end" textLength="17.8" lengthAdjust="spacingAndGlyphs" >1500</text>
<line x1="270.3" y1="233.57" x2="272.8" y2="233.57" stroke="#231f20" stroke-width="0.9" />
<text x="267.4" y="236.67" font-size="7.7" text-anchor="end" textLength="17.8" lengthAdjust="spacingAndGlyphs" >2000</text>
<line x1="270.3" y1="218.93" x2="272.8" y2="218.93" stroke="#231f20" stroke-width="0.9" />
<text x="267.4" y="222.03" font-size="7.7" text-anchor="end" textLength="17.8" lengthAdjust="spacingAndGlyphs" >2500</text>
<line x1="270.3" y1="204.3" x2="272.8" y2="204.3" stroke="#231f20" stroke-width="0.9" />
<text x="267.4" y="207.4" font-size="7.7" text-anchor="end" textLength="17.8" lengthAdjust="spacingAndGlyphs" >3000</text>
<line x1="289.2" y1="292.1" x2="289.2" y2="294.70000000000005" stroke="#231f20" stroke-width="0.9" />
<text x="289.2" y="304.8" font-size="7.2" text-anchor="middle" >0</text>
<line x1="313.8" y1="292.1" x2="313.8" y2="294.70000000000005" stroke="#231f20" stroke-width="0.9" />
<text x="313.8" y="304.8" font-size="7.2" text-anchor="middle" >3</text>
<line x1="338.5" y1="292.1" x2="338.5" y2="294.70000000000005" stroke="#231f20" stroke-width="0.9" />
<text x="338.5" y="304.8" font-size="7.2" text-anchor="middle" >6</text>
<line x1="363.2" y1="292.1" x2="363.2" y2="294.70000000000005" stroke="#231f20" stroke-width="0.9" />
<text x="363.2" y="304.8" font-size="7.2" text-anchor="middle" >9</text>
<line x1="388.0" y1="292.1" x2="388.0" y2="294.70000000000005" stroke="#231f20" stroke-width="0.9" />
<text x="388.0" y="304.8" font-size="7.2" text-anchor="middle" >12</text>
<text x="331.9" y="317.8" font-size="8.6" textLength="13.8" lengthAdjust="spacingAndGlyphs" class="c">Days</text>
<text transform="translate(242.4,246.4) rotate(-90)" x="0" y="0" font-size="8.8" text-anchor="middle" textLength="60.5" lengthAdjust="spacingAndGlyphs" class="c">Tumor volume (mm<tspan dy="-3.4" font-size="5.4">3</tspan><tspan dy="3.4">)</tspan></text>
<text x="301.2" y="187.4" font-size="7.3" textLength="74.8" lengthAdjust="spacingAndGlyphs" >MC-38/B2MKO/CIITA</text>
<text x="309.9" y="196.2" font-size="7.3" textLength="57.1" lengthAdjust="spacingAndGlyphs" >(MHC-I<tspan dy="-3.066" font-size="4.964">−</tspan><tspan dy="3.066">MHC-II</tspan><tspan dy="-3.066" font-size="4.964">+</tspan><tspan dy="3.066">)</tspan></text>
<polyline points="289.20,288.59 313.80,288.88 338.50,286.36 363.20,281.36 388.00,266.78" fill="none" stroke="#a6072f" stroke-width="0.9" stroke-dasharray="2.6,1.0,0.8,1.0"/>
<path d="M289.2,291.11999999999995 L291.62,286.71999999999997 L286.78,286.71999999999997Z" fill="#a6072f"/>
<path d="M313.8,291.40999999999997 L316.22,287.01 L311.38,287.01Z" fill="#a6072f"/>
<path d="M338.5,288.89 L340.92,284.49 L336.08,284.49Z" fill="#a6072f"/>
<path d="M363.2,283.89 L365.62,279.49 L360.78,279.49Z" fill="#a6072f"/>
<path d="M388.0,269.30999999999995 L390.42,264.90999999999997 L385.58,264.90999999999997Z" fill="#a6072f"/>
<line x1="338.5" y1="284.37" x2="338.5" y2="282.73" stroke="#a6072f" stroke-width="0.9" />
<line x1="335.8" y1="282.73" x2="341.2" y2="282.73" stroke="#a6072f" stroke-width="0.9" />
<line x1="363.2" y1="276.33" x2="363.2" y2="273.95" stroke="#a6072f" stroke-width="0.9" />
<line x1="360.5" y1="273.95" x2="365.9" y2="273.95" stroke="#a6072f" stroke-width="0.9" />
<line x1="388.0" y1="255.63" x2="388.0" y2="250.4" stroke="#a6072f" stroke-width="0.9" />
<line x1="385.3" y1="250.4" x2="390.7" y2="250.4" stroke="#a6072f" stroke-width="0.9" />
<polyline points="289.20,288.59 313.80,288.59 338.50,284.37 363.20,276.33 388.00,255.63" fill="none" stroke="#a6072f" stroke-width="1.0" stroke-dasharray="2.2,2.0"/>
<rect x="287.0" y="286.39" width="4.4" height="4.4" fill="#a6072f"/>
<rect x="311.6" y="286.39" width="4.4" height="4.4" fill="#a6072f"/>
<rect x="336.3" y="282.17" width="4.4" height="4.4" fill="#a6072f"/>
<rect x="361.0" y="274.13" width="4.4" height="4.4" fill="#a6072f"/>
<rect x="385.8" y="253.43" width="4.4" height="4.4" fill="#a6072f"/>
<line x1="363.2" y1="274.31" x2="363.2" y2="271.61" stroke="#a6072f" stroke-width="0.9" />
<line x1="360.5" y1="271.61" x2="365.9" y2="271.61" stroke="#a6072f" stroke-width="0.9" />
<line x1="388.0" y1="255.22" x2="388.0" y2="251.13" stroke="#a6072f" stroke-width="0.9" />
<line x1="385.3" y1="251.13" x2="390.7" y2="251.13" stroke="#a6072f" stroke-width="0.9" />
<polyline points="289.20,288.59 313.80,288.44 338.50,282.35 363.20,274.31 388.00,255.22" fill="none" stroke="#e48aa0" stroke-width="0.8" stroke-dasharray="0.9,0.5"/>
<path d="M289.2,286.06 L291.62,290.46 L286.78,290.46Z" fill="#a6072f"/>
<path d="M313.8,285.91 L316.22,290.31 L311.38,290.31Z" fill="#a6072f"/>
<path d="M338.5,279.82000000000005 L340.92,284.22 L336.08,284.22Z" fill="#a6072f"/>
<path d="M363.2,271.78000000000003 L365.62,276.18 L360.78,276.18Z" fill="#a6072f"/>
<path d="M388.0,252.69 L390.42,257.09 L385.58,257.09Z" fill="#a6072f"/>
<line x1="289.2" y1="288.47" x2="289.2" y2="287.71" stroke="#a6072f" stroke-width="0.9" />
<line x1="286.5" y1="287.71" x2="291.9" y2="287.71" stroke="#a6072f" stroke-width="0.9" />
<line x1="313.8" y1="288.38" x2="313.8" y2="287.42" stroke="#a6072f" stroke-width="0.9" />
<line x1="311.1" y1="287.42" x2="316.5" y2="287.42" stroke="#a6072f" stroke-width="0.9" />
<line x1="338.5" y1="278.84" x2="338.5" y2="276.33" stroke="#a6072f" stroke-width="0.9" />
<line x1="335.8" y1="276.33" x2="341.2" y2="276.33" stroke="#a6072f" stroke-width="0.9" />
<line x1="363.2" y1="268.6" x2="363.2" y2="265.26" stroke="#a6072f" stroke-width="0.9" />
<line x1="360.5" y1="265.26" x2="365.9" y2="265.26" stroke="#a6072f" stroke-width="0.9" />
<line x1="388.0" y1="237.46" x2="388.0" y2="232.92" stroke="#a6072f" stroke-width="0.9" />
<line x1="385.3" y1="232.92" x2="390.7" y2="232.92" stroke="#a6072f" stroke-width="0.9" />
<polyline points="289.20,288.47 313.80,288.38 338.50,278.84 363.20,268.60 388.00,237.46" fill="none" stroke="#a6072f" stroke-width="1.0"/>
<circle cx="289.2" cy="288.47" r="2.2" fill="#a6072f"/>
<circle cx="313.8" cy="288.38" r="2.2" fill="#a6072f"/>
<circle cx="338.5" cy="278.84" r="2.2" fill="#a6072f"/>
<circle cx="363.2" cy="268.6" r="2.2" fill="#a6072f"/>
<circle cx="388.0" cy="237.46" r="2.2" fill="#a6072f"/>
<line x1="393.3" y1="235.5" x2="393.3" y2="270.1" stroke="#5d5d5f" stroke-width="1.1" />
<line x1="402.3" y1="235.5" x2="402.3" y2="250.5" stroke="#5d5d5f" stroke-width="1.1" />
<line x1="402.3" y1="253.7" x2="402.3" y2="269.5" stroke="#5d5d5f" stroke-width="1.1" />
<line x1="411.1" y1="235.5" x2="411.1" y2="250.5" stroke="#5d5d5f" stroke-width="1.1" />
<line x1="411.1" y1="253.5" x2="411.1" y2="269.5" stroke="#5d5d5f" stroke-width="1.1" />
<text x="394.8" y="254.5" font-size="5.5" textLength="4.6" lengthAdjust="spacingAndGlyphs" >**</text>
<text x="404.3" y="243.9" font-size="5.5" textLength="4.6" lengthAdjust="spacingAndGlyphs" >**</text>
<text x="404.3" y="263.0" font-size="5.5" textLength="4.6" lengthAdjust="spacingAndGlyphs" >**</text>
<text x="413.3" y="243.9" font-size="5.5" textLength="4.6" lengthAdjust="spacingAndGlyphs" >**</text>
<text x="413.3" y="263.0" font-size="5.5" textLength="4.6" lengthAdjust="spacingAndGlyphs" >**</text>
<line x1="415.0" y1="248.2" x2="415.0" y2="255.9" stroke="#5d5d5f" stroke-width="0.8" />
<line x1="415.9" y1="248.2" x2="415.9" y2="255.9" stroke="#5d5d5f" stroke-width="0.8" />
<text x="418.0" y="255.0" font-size="7.2" textLength="13.3" lengthAdjust="spacingAndGlyphs" >N.S.</text>
<line x1="434.5" y1="205.5" x2="455.2" y2="205.5" stroke="#a6072f" stroke-width="1.0"/>
<circle cx="444.85" cy="205.5" r="2.3" fill="#a6072f"/>
<line x1="434.5" y1="216.6" x2="455.2" y2="216.6" stroke="#a6072f" stroke-width="1.0" stroke-dasharray="2.2,2.0"/>
<rect x="442.65000000000003" y="214.4" width="4.4" height="4.4" fill="#a6072f"/>
<line x1="434.5" y1="227.6" x2="455.2" y2="227.6" stroke="#e48aa0" stroke-width="0.8" stroke-dasharray="0.9,0.5"/>
<path d="M444.85,225.185 L447.16,229.385 L442.54,229.385Z" fill="#a6072f"/>
<line x1="434.5" y1="238.4" x2="455.2" y2="238.4" stroke="#a6072f" stroke-width="0.9" stroke-dasharray="2.6,1.0,0.8,1.0"/>
<path d="M444.85,240.815 L447.16,236.615 L442.54,236.615Z" fill="#a6072f"/>
<text x="458.2" y="208.2" font-size="6.8" textLength="39.5" lengthAdjust="spacingAndGlyphs" >Control mAb</text>
<text x="458.2" y="219.3" font-size="6.8" textLength="46.7" lengthAdjust="spacingAndGlyphs" >Anti-PD-1 mAb</text>
<text x="458.2" y="230.3" font-size="6.8" textLength="51.1" lengthAdjust="spacingAndGlyphs" >Anti-LAG-3 mAb</text>
<text x="458.2" y="241.3" font-size="6.8" textLength="46.7" lengthAdjust="spacingAndGlyphs" >Anti-PD-1 mAb</text>
<text x="458.2" y="250.3" font-size="6.8" textLength="55.2" lengthAdjust="spacingAndGlyphs" >+anti-LAG-3 mAb</text>
<text x="141.9" y="358.6" font-size="8.2" textLength="153.0" lengthAdjust="spacingAndGlyphs" >E.G7/B2MKO/CIITA (MHC-I<tspan dy="-3.4439999999999995" font-size="5.576">−</tspan><tspan dy="3.4439999999999995">MHC-II</tspan><tspan dy="-3.4439999999999995" font-size="5.576">+</tspan><tspan dy="3.4439999999999995">)</tspan></text>
<line x1="55.5" y1="378.8" x2="55.5" y2="470.9" stroke="#231f20" stroke-width="1.1" />
<line x1="55.0" y1="470.4" x2="187" y2="470.4" stroke="#231f20" stroke-width="1.1" />
<line x1="53.0" y1="470.4" x2="55.5" y2="470.4" stroke="#231f20" stroke-width="0.9" />
<text x="49.4" y="473.5" font-size="7.7" text-anchor="end" textLength="4.45" lengthAdjust="spacingAndGlyphs" >0</text>
<line x1="53.0" y1="452.58" x2="55.5" y2="452.58" stroke="#231f20" stroke-width="0.9" />
<text x="49.4" y="455.68" font-size="7.7" text-anchor="end" textLength="13.35" lengthAdjust="spacingAndGlyphs" >500</text>
<line x1="53.0" y1="434.76" x2="55.5" y2="434.76" stroke="#231f20" stroke-width="0.9" />
<text x="49.4" y="437.86" font-size="7.7" text-anchor="end" textLength="17.8" lengthAdjust="spacingAndGlyphs" >1000</text>
<line x1="53.0" y1="416.94" x2="55.5" y2="416.94" stroke="#231f20" stroke-width="0.9" />
<text x="49.4" y="420.04" font-size="7.7" text-anchor="end" textLength="17.8" lengthAdjust="spacingAndGlyphs" >1500</text>
<line x1="53.0" y1="399.12" x2="55.5" y2="399.12" stroke="#231f20" stroke-width="0.9" />
<text x="49.4" y="402.22" font-size="7.7" text-anchor="end" textLength="17.8" lengthAdjust="spacingAndGlyphs" >2000</text>
<line x1="53.0" y1="381.3" x2="55.5" y2="381.3" stroke="#231f20" stroke-width="0.9" />
<text x="49.4" y="384.4" font-size="7.7" text-anchor="end" textLength="17.8" lengthAdjust="spacingAndGlyphs" >2500</text>
<line x1="72.0" y1="470.4" x2="72.0" y2="473.0" stroke="#231f20" stroke-width="0.9" />
<text x="72.0" y="483.1" font-size="7.2" text-anchor="middle" >0</text>
<line x1="96.6" y1="470.4" x2="96.6" y2="473.0" stroke="#231f20" stroke-width="0.9" />
<text x="96.6" y="483.1" font-size="7.2" text-anchor="middle" >3</text>
<line x1="121.3" y1="470.4" x2="121.3" y2="473.0" stroke="#231f20" stroke-width="0.9" />
<text x="121.3" y="483.1" font-size="7.2" text-anchor="middle" >6</text>
<line x1="146.2" y1="470.4" x2="146.2" y2="473.0" stroke="#231f20" stroke-width="0.9" />
<text x="146.2" y="483.1" font-size="7.2" text-anchor="middle" >9</text>
<line x1="170.8" y1="470.4" x2="170.8" y2="473.0" stroke="#231f20" stroke-width="0.9" />
<text x="170.8" y="483.1" font-size="7.2" text-anchor="middle" >12</text>
<text x="114.8" y="495.6" font-size="8.6" textLength="13.6" lengthAdjust="spacingAndGlyphs" class="c">Days</text>
<text transform="translate(25.0,424.7) rotate(-90)" x="0" y="0" font-size="8.8" text-anchor="middle" textLength="61.0" lengthAdjust="spacingAndGlyphs" class="c">Tumor volume (mm<tspan dy="-3.4" font-size="5.4">3</tspan><tspan dy="3.4">)</tspan></text>
<text x="78.8" y="374.4" font-size="7.2" textLength="86.0" lengthAdjust="spacingAndGlyphs" >CD4<tspan dy="-3.2" font-size="5.6">+</tspan><tspan dy="3.2"> T cell-deleted mice</tspan></text>
<line x1="170.8" y1="404.04" x2="170.8" y2="386.22" stroke="#4e1b60" stroke-width="0.9" />
<line x1="168.1" y1="386.22" x2="173.5" y2="386.22" stroke="#4e1b60" stroke-width="0.9" />
<polyline points="72.00,463.20 96.60,454.15 121.30,443.46 146.20,428.70 170.80,404.04" fill="none" stroke="#4e1b60" stroke-width="1.05" stroke-dasharray="2.0,1.4"/>
<path d="M72.0,460.67 L74.42,465.07 L69.58,465.07Z" fill="#4e1b60"/>
<path d="M96.6,451.62 L99.02,456.02 L94.17999999999999,456.02Z" fill="#4e1b60"/>
<path d="M121.3,440.93 L123.72,445.33 L118.88,445.33Z" fill="#4e1b60"/>
<path d="M146.2,426.17 L148.61999999999998,430.57 L143.78,430.57Z" fill="#4e1b60"/>
<path d="M170.8,401.51000000000005 L173.22,405.91 L168.38000000000002,405.91Z" fill="#4e1b60"/>
<line x1="72.0" y1="462.27" x2="72.0" y2="459.99" stroke="#4e1b60" stroke-width="0.9" />
<line x1="69.3" y1="459.99" x2="74.7" y2="459.99" stroke="#4e1b60" stroke-width="0.9" />
<line x1="96.6" y1="453.97" x2="96.6" y2="447.45" stroke="#4e1b60" stroke-width="0.9" />
<line x1="93.9" y1="447.45" x2="99.3" y2="447.45" stroke="#4e1b60" stroke-width="0.9" />
<line x1="121.3" y1="438.54" x2="121.3" y2="430.91" stroke="#4e1b60" stroke-width="0.9" />
<line x1="118.6" y1="430.91" x2="124.0" y2="430.91" stroke="#4e1b60" stroke-width="0.9" />
<line x1="146.2" y1="424.0" x2="146.2" y2="416.87" stroke="#4e1b60" stroke-width="0.9" />
<line x1="143.5" y1="416.87" x2="148.9" y2="416.87" stroke="#4e1b60" stroke-width="0.9" />
<line x1="170.8" y1="402.04" x2="170.8" y2="383.51" stroke="#4e1b60" stroke-width="0.9" />
<line x1="168.1" y1="383.51" x2="173.5" y2="383.51" stroke="#4e1b60" stroke-width="0.9" />
<polyline points="72.00,462.27 96.60,453.97 121.30,438.54 146.20,424.00 170.80,402.04" fill="none" stroke="#4e1b60" stroke-width="0.95"/>
<circle cx="72.0" cy="462.27" r="2.5" fill="#4e1b60"/>
<circle cx="96.6" cy="453.97" r="2.5" fill="#4e1b60"/>
<circle cx="121.3" cy="438.54" r="2.5" fill="#4e1b60"/>
<circle cx="146.2" cy="424.0" r="2.5" fill="#4e1b60"/>
<circle cx="170.8" cy="402.04" r="2.5" fill="#4e1b60"/>
<line x1="177.4" y1="400.1" x2="177.4" y2="406.1" stroke="#231f20" stroke-width="0.9" />
<text x="180.5" y="405.8" font-size="7.2" textLength="13.2" lengthAdjust="spacingAndGlyphs" >N.S.</text>
<line x1="62.9" y1="400.1" x2="83.1" y2="400.1" stroke="#4e1b60" stroke-width="0.95"/>
<circle cx="73.0" cy="400.1" r="2.4" fill="#4e1b60"/>
<line x1="62.9" y1="411.1" x2="83.1" y2="411.1" stroke="#4e1b60" stroke-width="0.9" stroke-dasharray="1.7,2.4"/>
<path d="M73.0,408.8 L75.2,412.8 L70.8,412.8Z" fill="#4e1b60"/>
<text x="86.3" y="402.8" font-size="6.8" textLength="39.0" lengthAdjust="spacingAndGlyphs" >Control mAb</text>
<text x="86.3" y="413.8" font-size="6.8" textLength="50.9" lengthAdjust="spacingAndGlyphs" >Anti-LAG-3 mAb</text>
<line x1="249.6" y1="378.5" x2="249.6" y2="470.9" stroke="#231f20" stroke-width="1.1" />
<line x1="249.1" y1="470.4" x2="381.2" y2="470.4" stroke="#231f20" stroke-width="1.1" />
<line x1="247.1" y1="470.4" x2="249.6" y2="470.4" stroke="#231f20" stroke-width="0.9" />
<text x="244.1" y="473.5" font-size="7.7" text-anchor="end" textLength="4.45" lengthAdjust="spacingAndGlyphs" >0</text>
<line x1="247.1" y1="452.58" x2="249.6" y2="452.58" stroke="#231f20" stroke-width="0.9" />
<text x="244.1" y="455.68" font-size="7.7" text-anchor="end" textLength="13.35" lengthAdjust="spacingAndGlyphs" >500</text>
<line x1="247.1" y1="434.76" x2="249.6" y2="434.76" stroke="#231f20" stroke-width="0.9" />
<text x="244.1" y="437.86" font-size="7.7" text-anchor="end" textLength="17.8" lengthAdjust="spacingAndGlyphs" >1000</text>
<line x1="247.1" y1="416.94" x2="249.6" y2="416.94" stroke="#231f20" stroke-width="0.9" />
<text x="244.1" y="420.04" font-size="7.7" text-anchor="end" textLength="17.8" lengthAdjust="spacingAndGlyphs" >1500</text>
<line x1="247.1" y1="399.12" x2="249.6" y2="399.12" stroke="#231f20" stroke-width="0.9" />
<text x="244.1" y="402.22" font-size="7.7" text-anchor="end" textLength="17.8" lengthAdjust="spacingAndGlyphs" >2000</text>
<line x1="247.1" y1="381.3" x2="249.6" y2="381.3" stroke="#231f20" stroke-width="0.9" />
<text x="244.1" y="384.4" font-size="7.7" text-anchor="end" textLength="17.8" lengthAdjust="spacingAndGlyphs" >2500</text>
<line x1="266.0" y1="470.4" x2="266.0" y2="473.0" stroke="#231f20" stroke-width="0.9" />
<text x="266.0" y="483.1" font-size="7.2" text-anchor="middle" >0</text>
<line x1="290.8" y1="470.4" x2="290.8" y2="473.0" stroke="#231f20" stroke-width="0.9" />
<text x="290.8" y="483.1" font-size="7.2" text-anchor="middle" >3</text>
<line x1="315.6" y1="470.4" x2="315.6" y2="473.0" stroke="#231f20" stroke-width="0.9" />
<text x="315.6" y="483.1" font-size="7.2" text-anchor="middle" >6</text>
<line x1="340.1" y1="470.4" x2="340.1" y2="473.0" stroke="#231f20" stroke-width="0.9" />
<text x="340.1" y="483.1" font-size="7.2" text-anchor="middle" >9</text>
<line x1="364.5" y1="470.4" x2="364.5" y2="473.0" stroke="#231f20" stroke-width="0.9" />
<text x="364.5" y="483.1" font-size="7.2" text-anchor="middle" >12</text>
<text x="308.6" y="495.6" font-size="8.6" textLength="13.5" lengthAdjust="spacingAndGlyphs" class="c">Days</text>
<text transform="translate(219.4,424.7) rotate(-90)" x="0" y="0" font-size="8.8" text-anchor="middle" textLength="61.0" lengthAdjust="spacingAndGlyphs" class="c">Tumor volume (mm<tspan dy="-3.4" font-size="5.4">3</tspan><tspan dy="3.4">)</tspan></text>
<text x="272.8" y="374.4" font-size="7.2" textLength="85.6" lengthAdjust="spacingAndGlyphs" >CD8<tspan dy="-3.2" font-size="5.6">+</tspan><tspan dy="3.2"> T cell-deleted mice</tspan></text>
<line x1="315.6" y1="454.72" x2="315.6" y2="451.87" stroke="#58a633" stroke-width="0.9" />
<line x1="312.9" y1="451.87" x2="318.3" y2="451.87" stroke="#58a633" stroke-width="0.9" />
<line x1="340.1" y1="447.95" x2="340.1" y2="442.78" stroke="#58a633" stroke-width="0.9" />
<line x1="337.4" y1="442.78" x2="342.8" y2="442.78" stroke="#58a633" stroke-width="0.9" />
<line x1="364.5" y1="436.65" x2="364.5" y2="432.34" stroke="#58a633" stroke-width="0.9" />
<line x1="361.8" y1="432.34" x2="367.2" y2="432.34" stroke="#58a633" stroke-width="0.9" />
<polyline points="266.00,466.69 290.80,463.31 315.60,454.72 340.10,447.95 364.50,436.65" fill="none" stroke="#58a633" stroke-width="1.05" stroke-dasharray="2.0,1.4"/>
<path d="M266.0,464.16 L268.42,468.56 L263.58,468.56Z" fill="#58a633"/>
<path d="M290.8,460.78000000000003 L293.22,465.18 L288.38,465.18Z" fill="#58a633"/>
<path d="M315.6,452.19000000000005 L318.02000000000004,456.59000000000003 L313.18,456.59000000000003Z" fill="#58a633"/>
<path d="M340.1,445.42 L342.52000000000004,449.82 L337.68,449.82Z" fill="#58a633"/>
<path d="M364.5,434.12 L366.92,438.52 L362.08,438.52Z" fill="#58a633"/>
<line x1="290.8" y1="461.63" x2="290.8" y2="459.71" stroke="#58a633" stroke-width="0.9" />
<line x1="288.1" y1="459.71" x2="293.5" y2="459.71" stroke="#58a633" stroke-width="0.9" />
<line x1="315.6" y1="450.94" x2="315.6" y2="445.95" stroke="#58a633" stroke-width="0.9" />
<line x1="312.9" y1="445.95" x2="318.3" y2="445.95" stroke="#58a633" stroke-width="0.9" />
<line x1="340.1" y1="437.58" x2="340.1" y2="431.2" stroke="#58a633" stroke-width="0.9" />
<line x1="337.4" y1="431.2" x2="342.8" y2="431.2" stroke="#58a633" stroke-width="0.9" />
<line x1="364.5" y1="414.98" x2="364.5" y2="411.45" stroke="#58a633" stroke-width="0.9" />
<line x1="361.8" y1="411.45" x2="367.2" y2="411.45" stroke="#58a633" stroke-width="0.9" />
<polyline points="266.00,466.41 290.80,461.63 315.60,450.94 340.10,437.58 364.50,414.98" fill="none" stroke="#58a633" stroke-width="0.95"/>
<circle cx="266.0" cy="466.41" r="2.5" fill="#58a633"/>
<circle cx="290.8" cy="461.63" r="2.5" fill="#58a633"/>
<circle cx="315.6" cy="450.94" r="2.5" fill="#58a633"/>
<circle cx="340.1" cy="437.58" r="2.5" fill="#58a633"/>
<circle cx="364.5" cy="414.98" r="2.5" fill="#58a633"/>
<line x1="371.8" y1="412.3" x2="371.8" y2="435.7" stroke="#5d5d5f" stroke-width="1.1" />
<text x="374.6" y="425.2" font-size="5.5" textLength="5.0" lengthAdjust="spacingAndGlyphs" >**</text>
<line x1="255.2" y1="398.8" x2="275.7" y2="398.8" stroke="#58a633" stroke-width="0.95"/>
<circle cx="265.45" cy="398.8" r="2.4" fill="#58a633"/>
<line x1="255.2" y1="409.9" x2="275.7" y2="409.9" stroke="#58a633" stroke-width="0.9" stroke-dasharray="1.7,2.4"/>
<path d="M265.45,407.59999999999997 L267.65,411.59999999999997 L263.25,411.59999999999997Z" fill="#58a633"/>
<text x="278.7" y="401.5" font-size="6.8" textLength="39.0" lengthAdjust="spacingAndGlyphs" >Control mAb</text>
<text x="278.7" y="412.6" font-size="6.8" textLength="50.9" lengthAdjust="spacingAndGlyphs" >Anti-LAG-3 mAb</text>
</svg>
</body></html>
